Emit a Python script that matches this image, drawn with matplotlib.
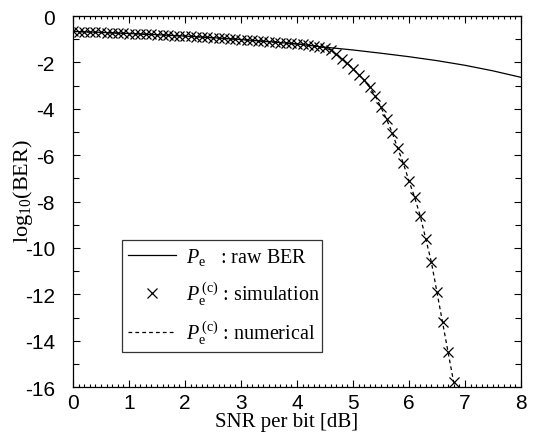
import numpy as np
import matplotlib
matplotlib.use("Agg")
import matplotlib.pyplot as plt
from matplotlib.ticker import MultipleLocator

plt.rcParams['mathtext.fontset'] = 'custom'
plt.rcParams['mathtext.rm'] = 'Liberation Serif'
plt.rcParams['mathtext.it'] = 'Liberation Serif:italic'
plt.rcParams['xtick.direction'] = 'in'
plt.rcParams['ytick.direction'] = 'in'
plt.rcParams['xtick.major.pad'] = 4
plt.rcParams['ytick.major.pad'] = 13

# raw BER (solid)
raw_snr = [0, 0.5, 1, 1.5, 2, 2.5, 3, 3.5, 4, 4.5, 5, 5.5, 6, 6.5, 7, 7.5, 8]
raw_ber = [-0.66, -0.70, -0.75, -0.80, -0.86, -0.93, -1.01, -1.10, -1.20, -1.34,
           -1.46, -1.60, -1.75, -1.92, -2.12, -2.36, -2.64]

# simulation (x markers)
sim_snr = [round(0.1 * i, 1) for i in range(69)]
sim_ber = [-0.66, -0.67, -0.67, -0.68, -0.69, -0.70, -0.71, -0.72, -0.73, -0.74,
           -0.75, -0.76, -0.77, -0.78, -0.79, -0.80, -0.81, -0.83, -0.84, -0.85,
           -0.86, -0.87, -0.89, -0.90, -0.92, -0.93, -0.95, -0.96, -0.98, -0.99,
           -1.01, -1.03, -1.04, -1.06, -1.08, -1.10, -1.12, -1.14, -1.16, -1.18,
           -1.20, -1.22, -1.25, -1.28, -1.32, -1.37, -1.46, -1.65, -1.85, -2.04,
           -2.26, -2.52, -2.76, -3.07, -3.45, -3.93, -4.45, -5.02, -5.70, -6.35,
           -7.10, -7.80, -8.60, -9.60, -10.60, -11.90, -13.20, -14.50, -15.80]

# numerical (dashed)
num_snr = [0, 1, 2, 3, 4, 4.3, 4.4, 4.5, 4.6, 4.7, 4.8, 4.9, 5.0, 5.1, 5.2, 5.3, 5.4,
           5.5, 5.6, 5.7, 5.8, 5.9, 6.0, 6.1, 6.2, 6.3, 6.4, 6.5, 6.6, 6.7, 6.8, 6.9]
num_ber = [-0.66, -0.75, -0.86, -1.01, -1.20, -1.28, -1.32, -1.37, -1.46, -1.65,
           -1.85, -2.04, -2.26, -2.52, -2.76, -3.07, -3.45, -3.93, -4.45, -5.02,
           -5.70, -6.35, -7.10, -7.80, -8.60, -9.60, -10.60, -11.90, -13.20, -14.50,
           -15.80, -17.20]

x_ticks = [0, 1, 2, 3, 4, 5, 6, 7, 8]
y_ticks = [0, -2, -4, -6, -8, -10, -12, -14, -16]

fig = plt.figure(figsize=(5.37, 4.39), dpi=100)
ax = fig.add_axes([0.136, 0.116, 0.834, 0.845])

ax.plot(raw_snr, raw_ber, '-', color='black', lw=0.9, label=r'$P_{\rm e}$   : raw BER')
ax.plot(sim_snr, sim_ber, 'x', color='black', ms=7.5, mew=0.9, ls='none',
        label=r'$P_{\rm e}^{\rm\,(c)}$ : simulation')
ax.plot(num_snr, num_ber, '--', color='black', lw=0.9, dashes=(3, 2.5),
        label=r'$P_{\rm e}^{\rm\,(c)}$ : numerical')

ax.set_xlim(0, 8)
ax.set_ylim(-16, 0)
ax.set_xticks(x_ticks)
ax.set_yticks(y_ticks)
ax.set_xticklabels([str(v) for v in x_ticks], fontsize=15, family='Liberation Sans')
ax.set_yticklabels([str(v) for v in y_ticks], fontsize=15, family='Liberation Sans')
ax.xaxis.set_minor_locator(MultipleLocator(0.1))
ax.yaxis.set_minor_locator(MultipleLocator(1))
ax.tick_params(which='both', direction='in', top=True, right=True, width=0.8)
ax.tick_params(axis='x', which='major', length=5, pad=4)
ax.tick_params(axis='x', which='minor', length=2)
ax.tick_params(axis='y', which='major', length=5, pad=13)
ax.tick_params(axis='y', which='minor', length=4)
for s in ax.spines.values():
    s.set_linewidth(0.9)

ax.set_xlabel('SNR per bit [dB]', fontsize=15, family='Liberation Serif')
ax.set_ylabel(r'log$_{10}$(BER)', fontsize=16, family='Liberation Serif')
ax.xaxis.set_label_coords(0.476, -0.066, transform=ax.transAxes)
ax.yaxis.set_label_coords(-0.085, 0.53, transform=ax.transAxes)
ax.xaxis.label.set_va('top')

leg = ax.legend(loc='lower left', bbox_to_anchor=(0.109, 0.094, 0.447, 0.313),
                mode='expand', prop={'family': 'Liberation Serif', 'size': 14.5},
                frameon=True, fancybox=False, edgecolor='black', borderpad=0.3,
                labelspacing=0.6, handlelength=2.4, handletextpad=0.5,
                borderaxespad=0)
leg.get_frame().set_linewidth(0.9)

fig.savefig('out.png', dpi=100)
